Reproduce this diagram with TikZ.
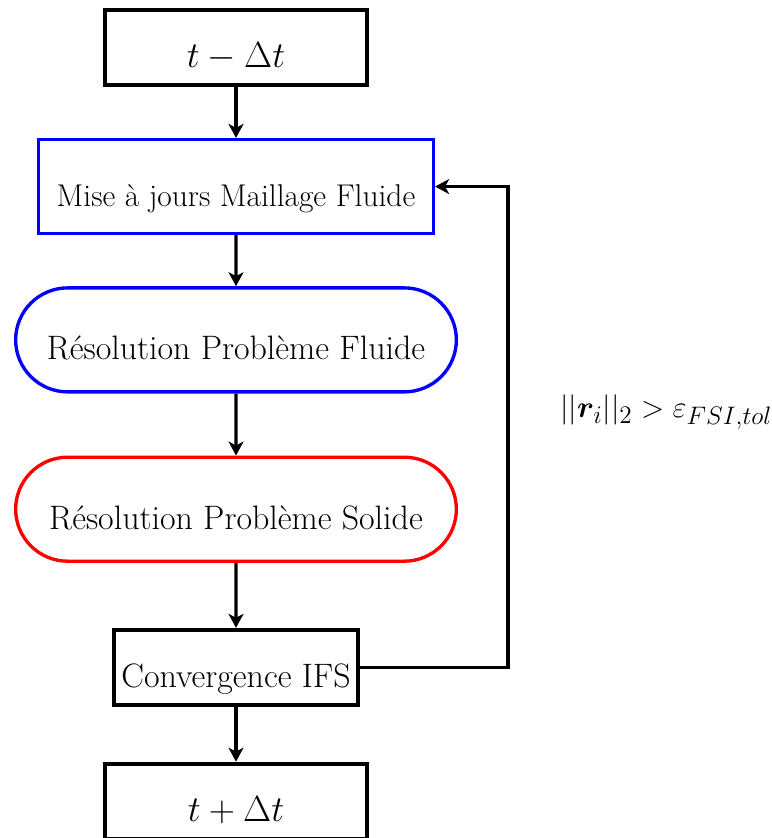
\documentclass[tikz,border=0pt]{standalone}
\usepackage{amsmath,amssymb}
\usepackage{bm}
\usepackage{xcolor}
\usetikzlibrary{arrows.meta, positioning, shapes.misc}

\begin{document}
\begin{tikzpicture}[
    x=0.02cm, y=-0.02cm,
    node distance=1.02cm and 1.5cm,
    box/.style={draw, line width=2.2pt, minimum width=5.24cm, minimum height=1.5cm,
                text height=0.85cm, text depth=0.05cm,
                font=\fontsize{19.3}{23}\selectfont, align=center},
    bluebox/.style={box, draw=blue, line width=1.9pt},
    pill/.style={draw, rounded rectangle, line width=1.9pt, minimum width=9.05cm,
                 minimum height=2.08cm, text height=0.85cm, text depth=0.05cm,
                 font=\fontsize{19.3}{23}\selectfont},
    arrow/.style={-{Stealth[length=2.8mm, width=3mm, inset=0.8mm]}, line width=1.85pt}
  ]
    \useasboundingbox (0,0) rectangle (771,838);

    \node[box] (prev) at (236,47.5) {$t-\Delta t$};
    \node[bluebox, below=1.02cm of prev, minimum width=7.9cm, minimum height=1.88cm,
          font=\fontsize{17.9}{21}\selectfont] (mesh) {Mise à jours Maillage Fluide};
    \node[pill, draw=blue, below=1.02cm of mesh] (fluid) {Résolution Problème Fluide};
    \node[pill, draw=red, below=1.24cm of fluid]  (solid) {Résolution Problème Solide};
    \node[box, below=1.3cm of solid, minimum width=4.88cm, inner xsep=2pt] (conv) {Convergence IFS};
    \node[box, below=1.1cm of conv] (next) {$t+\Delta t$};

    \draw[arrow] (prev) -- (mesh);
    \draw[arrow] (mesh) -- (fluid);
    \draw[arrow] (fluid) -- (solid);
    \draw[arrow] (solid) -- (conv);
    \draw[arrow] (conv) -- (next);

    % boucle de couplage
    \coordinate (loop) at (508,412);
    \draw[arrow] (conv.east) -| (loop) |- (mesh.east);
    \node[right=1.04cm of loop, font=\fontsize{18.9}{22}\selectfont, inner sep=0pt] (crit)
          {$||\bm{r}_i||_2 > \varepsilon_{FSI,tol}$};
  \end{tikzpicture}
\end{document}
